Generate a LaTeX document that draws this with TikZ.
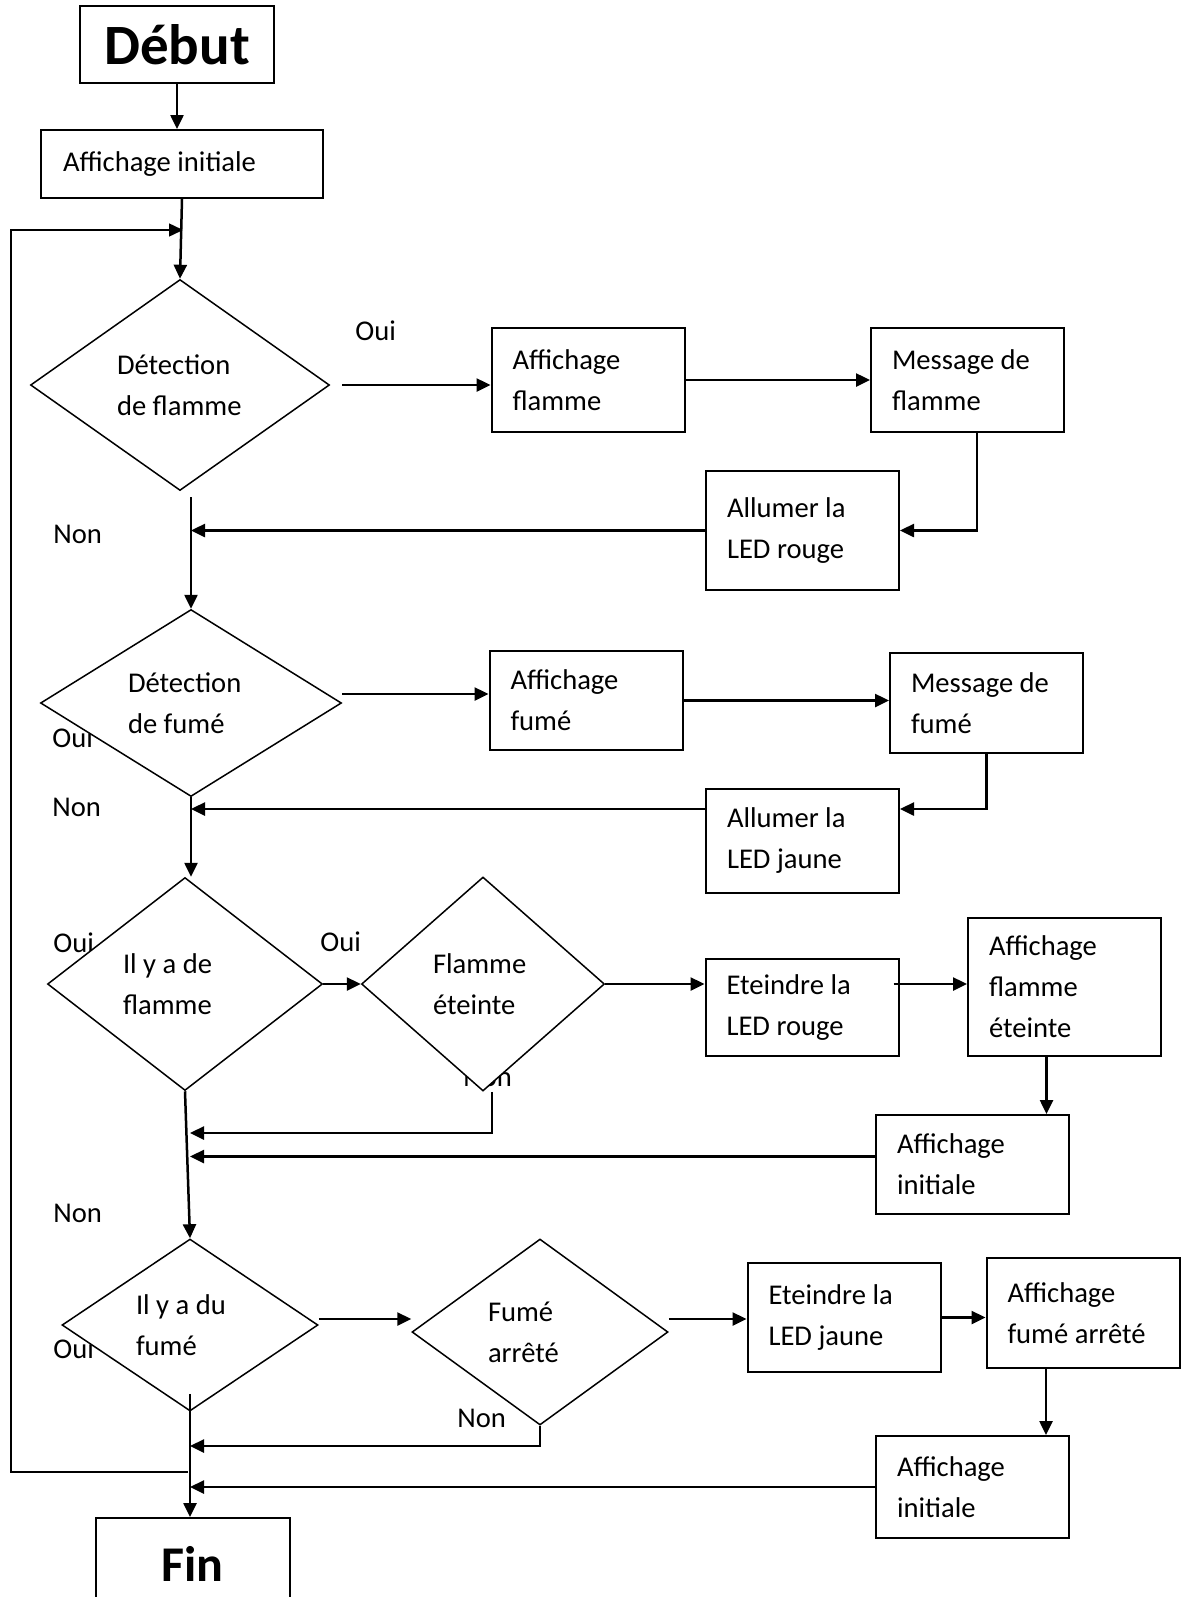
\documentclass[tikz,border=0pt]{standalone}
\usepackage{fontspec}
\setmainfont{Carlito}
\usetikzlibrary{positioning}
\usetikzlibrary{arrows.meta}
\usetikzlibrary{shapes.geometric}

\begin{document}
\begin{tikzpicture}[x=0.5pt,y=-0.5pt,font=\fontsize{14.3pt}{20.5pt}\selectfont]
\useasboundingbox (0,0) rectangle (1182,1597);

% Oui / Non (sous les losanges)
\begin{scope}[every node/.style={anchor=base west,inner sep=0pt}]
    \node (oui1) at (355,340) {Oui};
    \node (non1) at (53,543) {Non};
    \node (oui2) at (52,747) {Oui};
    \node (non2) at (52,816) {Non};
    \node (oui3) at (53,952) {Oui};
    \node (oui4) at (320,951) {Oui};
    \node (non4) at (463,1086) {Non};
    \node (non3) at (53,1222) {Non};
    \node (oui5) at (53,1358) {Oui};
    \node (non6) at (457,1427) {Non};
\end{scope}

\begin{scope}[every node/.style={rectangle,draw,line width=1pt,fill=white,minimum width=97pt,inner sep=0pt}]
    \node [minimum height=38.5pt,font=\fontsize{28.5pt}{34pt}\selectfont\bfseries] (debut) at (177,44.5) {Début};
    \node [minimum height=46pt,font=\fontsize{25pt}{30pt}\selectfont\bfseries] (fin) at (192.5,1564) {Fin};
\end{scope}

\begin{scope}[every node/.style={rectangle,draw,line width=1pt,fill=white,inner xsep=10.5pt,inner ysep=0pt,text width=75.5pt,align=flush left}]
    \node [minimum height=34pt,text width=119pt,inner xsep=11pt] (init) at (182,164) {Affichage initiale};

    \node [minimum height=52pt] (affFl) at (588,380) {Affichage\\flamme};
    \node [minimum height=52pt] (msgFl) at (967.5,380) {Message de\\flamme};
    \node [minimum height=59.5pt] (ledR) at (802.5,530.5) {Allumer la\\LED rouge};

    \node [minimum height=49.5pt] (affFu) at (586,700.5) {Affichage\\fumé};
    \node [minimum height=50pt] (msgFu) at (986.5,703) {Message de\\fumé};
    \node [minimum height=52pt] (ledJ) at (802.5,841) {Allumer la\\LED jaune};

    \node [minimum height=48.5pt] (offR) at (802,1007.5) {Eteindre la\\LED rouge};
    \node [minimum height=69pt] (affOffFl) at (1064.5,987) {Affichage\\flamme\\éteinte};
    \node [minimum height=49.5pt] (init2) at (972.5,1164.5) {Affichage\\initiale};

    \node [minimum height=54.5pt] (offJ) at (844,1317.5) {Eteindre la\\LED jaune};
    \node [minimum height=55pt] (affFuStop) at (1083,1313) {Affichage\\fumé arrêté};
    \node [minimum height=51pt] (init3) at (972.5,1487) {Affichage\\initiale};
\end{scope}

\begin{scope}[every node/.style={diamond,draw,line width=0.75pt,fill=white,aspect=1.4,inner sep=0pt,align=flush left}]
    \node [minimum width=149.5pt,minimum height=105.5pt,text width=63pt] (detFl) at (180,385) {Détection\\de~flamme};
    \node [minimum width=150.5pt,minimum height=93.5pt,text width=63pt] (detFu) at (191,703) {Détection\\de~fumé};
    \node [minimum width=137.5pt,minimum height=106.5pt,text width=62pt] (yaFl) at (185,984) {Il~y~a~de\\flamme};
    \node [minimum width=121.5pt,minimum height=107pt,text width=50pt] (flOff) at (483,984) {Flamme\\éteinte};
    \node [minimum width=128pt,minimum height=86pt,text width=54pt] (yaFu) at (190,1325) {Il~y~a~du\\fumé};
    \node [minimum width=128pt,minimum height=93pt,text width=52pt] (fuStop) at (540,1332) {Fumé\\arrêté};
\end{scope}

\coordinate (loopIn) at (183,230);
\coordinate (loopOut) at (188,1472);
\coordinate (loopLeft) at (11,800);
\coordinate (backFl) at (190,1133);
\coordinate (backFu) at (190,1446);

\begin{scope}[>={Triangle[length=7pt,width=6.5pt]}]
     \draw [->,line width=1.25pt] (debut.south) -- (debut.south |- init.north);
     \draw [->,line width=1.25pt] (init.south) -- (detFl.north);
     \draw [->,line width=0.75pt] (loopOut) -| (loopLeft) |- (loopIn);

     \draw [->,line width=1.25pt] ([xshift=6pt]detFl.east) -- (detFl.east -| affFl.west);
     \draw [->,line width=1.25pt] (affFl.east) -- (msgFl.west);
     \draw [->,line width=1.25pt] ([xshift=4.75pt]msgFl.south) |- (ledR.east);
     \draw [->,line width=1.25pt] (ledR.west) -- (ledR.west -| detFu.north);
     \draw [->,line width=1.25pt] ([yshift=-3pt]detFl.south -| detFu.north) -- (detFu.north);

     \draw [->,line width=1.25pt] ([yshift=4.5pt]detFu.east) -- ([yshift=4.5pt]detFu.east -| affFu.west);
     \draw [->,line width=1.25pt] (affFu.east) -- (affFu.east -| msgFu.west);
     \draw [->,line width=1.25pt] (msgFu.south) |- ([yshift=16pt]ledJ.east);
     \draw [->,line width=1.25pt] ([yshift=16pt]ledJ.west) -- ([yshift=16pt]ledJ.west -| detFu.south);
     \draw [->,line width=1.25pt] (detFu.south) -- (detFu.south |- yaFl.north);

     \draw [->,line width=1.25pt] (yaFl.east) -- (flOff.west);
     \draw [->,line width=1.25pt] (flOff.east) -- (flOff.east -| offR.west);
     \draw [->,line width=1.25pt] ([xshift=-3pt]offR.east |- flOff.east) -- (flOff.east -| affOffFl.west);
     \draw [->,line width=1.25pt] ([xshift=-9pt]affOffFl.south) -- ([xshift=-9pt]affOffFl.south |- init2.north);
     \draw [->,line width=1.25pt] ([xshift=4.5pt]flOff.south) |- (backFl);
     \draw [->,line width=1.25pt] ([yshift=4pt]init2.west) -- ([yshift=4pt]init2.west -| yaFu.north);
     \draw [->,line width=1.25pt] (yaFl.south) -- (yaFu.north);

     \draw [->,line width=1.25pt] ([yshift=3pt]yaFu.east) -- ([yshift=3pt]yaFu.east -| fuStop.west);
     \draw [->,line width=1.25pt] ([yshift=6.5pt]fuStop.east) -- ([yshift=6.5pt]fuStop.east -| offJ.west);
     \draw [->,line width=1.25pt] (offJ.east) -- (offJ.east -| affFuStop.west);
     \draw [->,line width=1.25pt] ([xshift=-18.5pt]affFuStop.south) -- ([xshift=-18.5pt]affFuStop.south |- init3.north);
     \draw [->,line width=1.25pt] (fuStop.south) |- (backFu);
     \draw [->,line width=1.25pt] (init3.west) -- (init3.west -| yaFu.south);
     \draw [->,line width=1.25pt] ([yshift=9pt]yaFu.south) -- (yaFu.south |- fin.north);
\end{scope}
\end{tikzpicture}
\end{document}
